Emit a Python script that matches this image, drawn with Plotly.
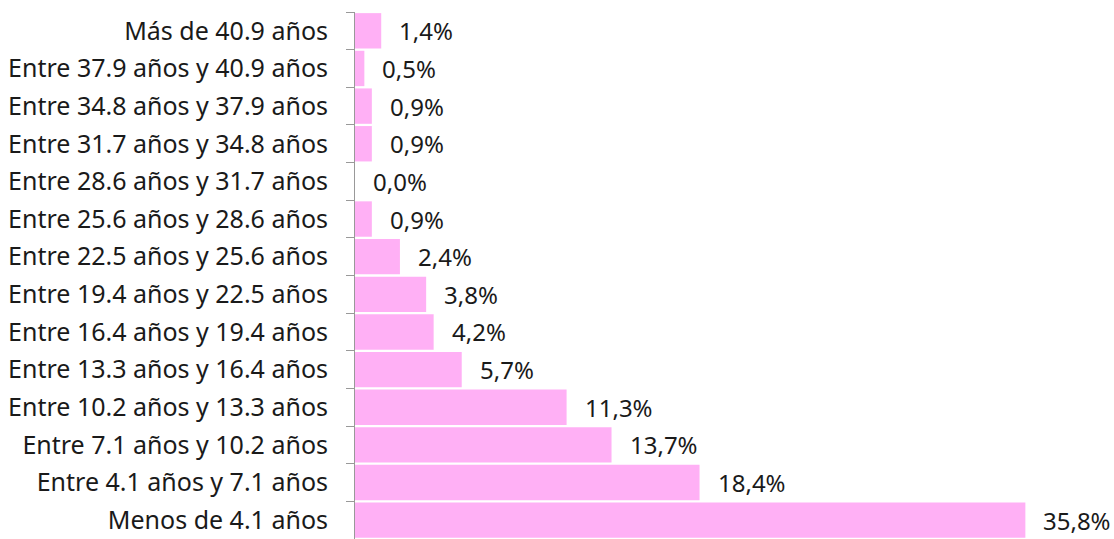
import plotly.graph_objects as go

categories = [
    "Menos de 4.1 años",
    "Entre 4.1 años y 7.1 años",
    "Entre 7.1 años y 10.2 años",
    "Entre 10.2 años y 13.3 años",
    "Entre 13.3 años y 16.4 años",
    "Entre 16.4 años y 19.4 años",
    "Entre 19.4 años y 22.5 años",
    "Entre 22.5 años y 25.6 años",
    "Entre 25.6 años y 28.6 años",
    "Entre 28.6 años y 31.7 años",
    "Entre 31.7 años y 34.8 años",
    "Entre 34.8 años y 37.9 años",
    "Entre 37.9 años y 40.9 años",
    "Más de 40.9 años",
]
values = [35.8, 18.4, 13.7, 11.3, 5.7, 4.2, 3.8, 2.4, 0.9, 0.0, 0.9, 0.9, 0.5, 1.4]
labels = [f"{v:.1f}%".replace(".", ",") for v in values]

FONT = "Noto Sans"

fig = go.Figure(go.Bar(
    x=values, y=categories, orientation="h",
    marker=dict(color="#FFB0F5", line=dict(width=0)),
    hoverinfo="skip",
))

for v, c, t in zip(values, categories, labels):
    fig.add_annotation(x=v, y=c, text=t, showarrow=False, xanchor="left",
                       xshift=16, font=dict(family=FONT, size=24, color="#1a1a1a"))

fig.update_layout(
    width=1114, height=539,
    margin=dict(l=355, r=10, t=12, b=0),
    plot_bgcolor="white", paper_bgcolor="white",
    bargap=0.06,
    showlegend=False,
    font=dict(family=FONT, size=24, color="#1a1a1a"),
    xaxis=dict(range=[0, 40], visible=False, fixedrange=True),
    yaxis=dict(showline=True, linecolor="#999", linewidth=1,
               ticks="outside", tickson="boundaries", ticklen=8, tickcolor="#999",
               ticklabelstandoff=21, showgrid=False, automargin=False, fixedrange=True,
               tickfont=dict(family=FONT, size=25, color="#1a1a1a")),
)

fig.write_html("out.html", config={"displayModeBar": False},
               post_script="document.body.style.margin='0';")
